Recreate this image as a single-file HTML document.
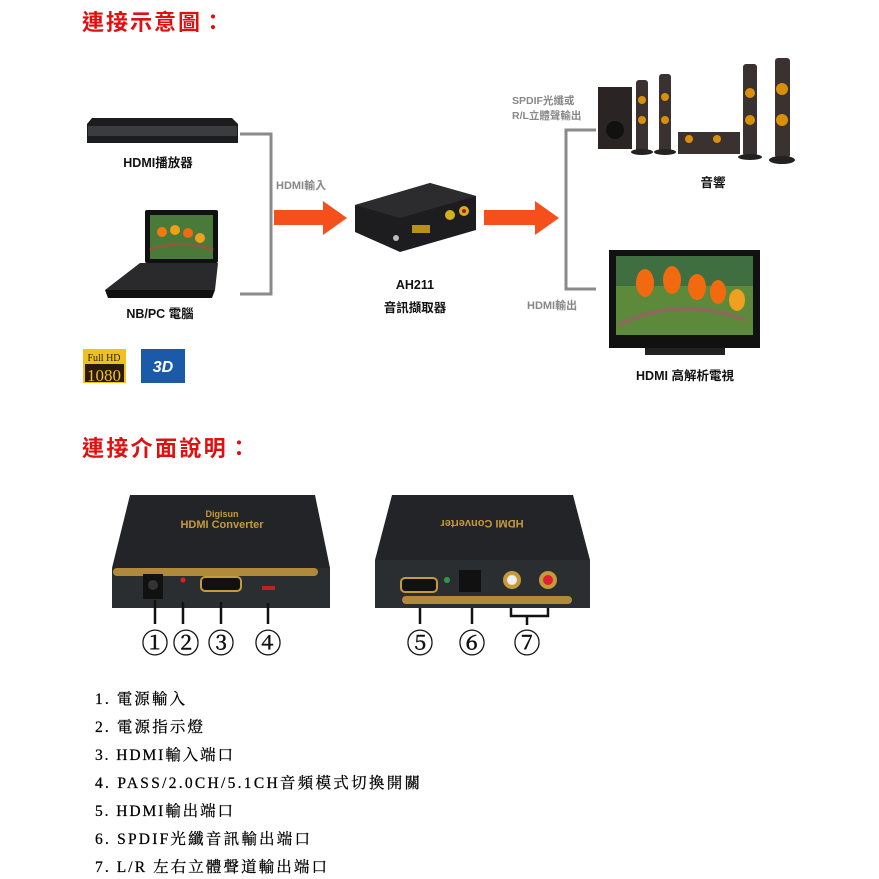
<!DOCTYPE html>
<html><head><meta charset="utf-8"><style>
html,body{margin:0;padding:0;background:#fff;}
svg{display:block;}
.t{font-family:"Liberation Sans","Noto Sans CJK TC",sans-serif;font-weight:bold;}
.s{font-family:"Liberation Serif","Noto Serif CJK SC",serif;font-size:15.5px;fill:#000;stroke:#000;stroke-width:0.25;}
</style></head><body>
<svg width="879" height="879" viewBox="0 0 879 879" xmlns="http://www.w3.org/2000/svg">
<rect width="879" height="879" fill="#fff"/>
<text x="82" y="30" class="t" font-size="22" fill="#e01010" textLength="142">連接示意圖：</text>
<text x="82" y="456" class="t" font-size="22" fill="#e01010" textLength="168">連接介面說明：</text>

<path d="M92 118 L232 118 L238 124 L238 143 L87 143 L87 124 Z" fill="#1c1c1e"/>
<rect x="88" y="126" width="149" height="10" fill="#3a3c40"/>
<text x="158" y="167" class="t" font-size="12.5" fill="#111" text-anchor="middle">HDMI播放器</text>

<rect x="145" y="210" width="73" height="53" rx="2" fill="#111"/>
<rect x="150" y="215" width="63" height="44" fill="#4a7a3a"/>
<circle cx="162" cy="232" r="5" fill="#f07a10"/><circle cx="175" cy="230" r="5" fill="#f0a010"/><circle cx="188" cy="233" r="5" fill="#ef6b12"/><circle cx="200" cy="238" r="5" fill="#f0a020"/>
<path d="M150 250 Q180 238 213 250" stroke="#8a5a40" stroke-width="3" fill="none"/>
<path d="M140 263 L218 263 L215 290 L105 290 Z" fill="#2a2a2c"/>
<path d="M105 290 L215 290 L212 298 L108 298 Z" fill="#111"/>
<text x="160" y="318" class="t" font-size="12.5" fill="#111" text-anchor="middle">NB/PC 電腦</text>

<path d="M240 134 L271 134 L271 294 L240 294" stroke="#8a8a8a" stroke-width="3" fill="none"/>
<text x="276" y="189" class="t" font-size="11" fill="#888">HDMI輸入</text>
<path d="M274 210 L323 210 L323 201 L347 218 L323 235 L323 225 L274 225 Z" fill="#f5501c"/>

<path d="M355 205 L430 183 L476 196 L476 230 L400 252 L355 232 Z" fill="#1d1d1f"/>
<path d="M355 205 L430 183 L476 196 L400 218 Z" fill="#2c2c2f"/>
<rect x="412" y="225" width="18" height="8" fill="#b8901a"/>
<circle cx="450" cy="215" r="5" fill="#d4b020"/><circle cx="464" cy="211" r="5" fill="#d4b020"/>
<circle cx="464" cy="211" r="2" fill="#c01010"/>
<circle cx="396" cy="238" r="3" fill="#bbb"/>
<text x="415" y="289" class="t" font-size="12.5" fill="#111" text-anchor="middle">AH211</text>
<text x="415" y="312" class="t" font-size="12.5" fill="#111" text-anchor="middle">音訊擷取器</text>

<path d="M484 210 L535 210 L535 201 L559 218 L535 235 L535 225 L484 225 Z" fill="#f5501c"/>

<path d="M596 130 L566 130 L566 289 L596 289" stroke="#8a8a8a" stroke-width="3" fill="none"/>
<text x="512" y="104" class="t" font-size="10.5" fill="#888">SPDIF光纖或</text>
<text x="512" y="119" class="t" font-size="10.5" fill="#888">R/L立體聲輸出</text>
<text x="527" y="309" class="t" font-size="11" fill="#888">HDMI輸出</text>

<rect x="598" y="87" width="34" height="62" fill="#2a2524"/>
<circle cx="615" cy="130" r="9" fill="#111"/>
<g fill="#3a3230">
<rect x="636" y="80" width="12" height="72" rx="3"/><rect x="659" y="74" width="12" height="78" rx="3"/>
<rect x="743" y="64" width="14" height="92" rx="3"/><rect x="775" y="58" width="15" height="100" rx="3"/>
<rect x="678" y="132" width="62" height="22"/>
</g>
<g fill="#d8900c">
<circle cx="642" cy="100" r="4"/><circle cx="642" cy="120" r="4"/><circle cx="665" cy="97" r="4"/><circle cx="665" cy="120" r="4"/>
<circle cx="750" cy="93" r="5"/><circle cx="750" cy="120" r="5"/><circle cx="782" cy="89" r="6"/><circle cx="782" cy="120" r="6"/>
<circle cx="689" cy="139" r="4"/><circle cx="717" cy="139" r="4"/>
</g>
<g fill="#222"><ellipse cx="642" cy="152" rx="11" ry="3"/><ellipse cx="665" cy="152" rx="11" ry="3"/><ellipse cx="750" cy="157" rx="12" ry="3"/><ellipse cx="782" cy="160" rx="13" ry="4"/></g>
<text x="713" y="187" class="t" font-size="12.5" fill="#111" text-anchor="middle">音響</text>

<rect x="609" y="250" width="151" height="98" fill="#111"/>
<rect x="616" y="256" width="137" height="79" fill="#5c8a3a"/>
<rect x="616" y="256" width="137" height="30" fill="#3f6e40"/>
<g fill="#f26a10"><ellipse cx="645" cy="283" rx="9" ry="14"/><ellipse cx="672" cy="280" rx="9" ry="14"/><ellipse cx="697" cy="287" rx="9" ry="13"/><ellipse cx="718" cy="292" rx="8" ry="12"/></g>
<ellipse cx="737" cy="300" rx="8" ry="11" fill="#f0a020"/>
<path d="M618 325 Q680 295 745 320" stroke="#8a6a5a" stroke-width="4" fill="none"/>
<rect x="645" y="348" width="80" height="7" fill="#222"/>
<text x="685" y="380" class="t" font-size="12.5" fill="#111" text-anchor="middle">HDMI 高解析電視</text>

<rect x="83" y="349" width="43" height="34" fill="#f0c020"/>
<rect x="85" y="364" width="39" height="18" fill="#2a1a0a"/>
<text x="104" y="361" font-family="Liberation Serif,serif" font-size="10" fill="#222" text-anchor="middle">Full HD</text>
<text x="104" y="381" font-family="Liberation Serif,serif" font-size="17" fill="#f0c020" text-anchor="middle">1080</text>
<rect x="141" y="349" width="44" height="34" fill="#1a5aa8"/>
<text x="163" y="372" font-family="Liberation Sans,sans-serif" font-weight="bold" font-style="italic" font-size="16" fill="#fff" text-anchor="middle">3D</text>

<path d="M130 495 L315 495 L330 568 L112 568 Z" fill="#222427"/>
<text x="222" y="517" class="t" font-size="9" fill="#c59a3a" text-anchor="middle">Digisun</text>
<text x="222" y="528" class="t" font-size="11" fill="#c59a3a" text-anchor="middle">HDMI Converter</text>
<rect x="112" y="568" width="218" height="40" fill="#2b2e31"/>
<rect x="113" y="568" width="205" height="8" rx="4" fill="#b08a3a"/>
<rect x="143" y="574" width="20" height="25" fill="#111"/><circle cx="153" cy="585" r="5" fill="#333"/>
<circle cx="183" cy="580" r="2.5" fill="#e02020"/>
<rect x="201" y="577" width="40" height="14" rx="4" fill="#111" stroke="#c59a3a" stroke-width="2"/>
<rect x="262" y="586" width="13" height="4" fill="#c02020"/>
<g stroke="#111" stroke-width="2.5">
<line x1="155" y1="600" x2="155" y2="624"/><line x1="183" y1="602" x2="183" y2="624"/><line x1="221" y1="602" x2="221" y2="624"/><line x1="268" y1="603" x2="268" y2="624"/>
<line x1="420" y1="605" x2="420" y2="624"/><line x1="472" y1="605" x2="472" y2="624"/>
<path d="M511 605 L511 616 L548 616 L548 605 M527 616 L527 625" fill="none"/>
</g>
<g font-family="Liberation Serif,'Noto Serif CJK SC',serif" font-size="27" fill="#111" stroke="#111" stroke-width="0.5" text-anchor="middle">
<text x="155" y="653">①</text><text x="186" y="653">②</text><text x="221" y="653">③</text><text x="268" y="653">④</text>
<text x="420" y="653">⑤</text><text x="472" y="653">⑥</text><text x="527" y="653">⑦</text>
</g>

<path d="M392 495 L573 495 L590 560 L375 560 Z" fill="#222427"/>
<text x="482" y="528" class="t" font-size="11" fill="#c59a3a" text-anchor="middle" transform="rotate(180 482 524)">HDMI Converter</text>
<rect x="375" y="560" width="215" height="48" fill="#2b2e31"/>
<rect x="402" y="596" width="170" height="8" rx="4" fill="#b08a3a"/>
<rect x="401" y="578" width="36" height="14" rx="4" fill="#111" stroke="#c59a3a" stroke-width="2"/>
<circle cx="447" cy="580" r="3" fill="#2a9a4a"/>
<rect x="459" y="570" width="22" height="22" fill="#111"/>
<circle cx="512" cy="580" r="9" fill="#c59a3a"/><circle cx="512" cy="580" r="5" fill="#eee"/>
<circle cx="548" cy="580" r="9" fill="#c59a3a"/><circle cx="548" cy="580" r="5" fill="#e02030"/>

<text x="95" y="704" class="s" textLength="90">1. 電源輸入</text>
<text x="95" y="732" class="s" textLength="108">2. 電源指示燈</text>
<text x="95" y="760" class="s" textLength="138">3. HDMI輸入端口</text>
<text x="95" y="788" class="s" textLength="325">4. PASS/2.0CH/5.1CH音頻模式切換開關</text>
<text x="95" y="816" class="s" textLength="138">5. HDMI輸出端口</text>
<text x="95" y="844" class="s" textLength="215">6. SPDIF光纖音訊輸出端口</text>
<text x="95" y="872" class="s" textLength="232">7. L/R 左右立體聲道輸出端口</text>
</svg>
</body></html>
